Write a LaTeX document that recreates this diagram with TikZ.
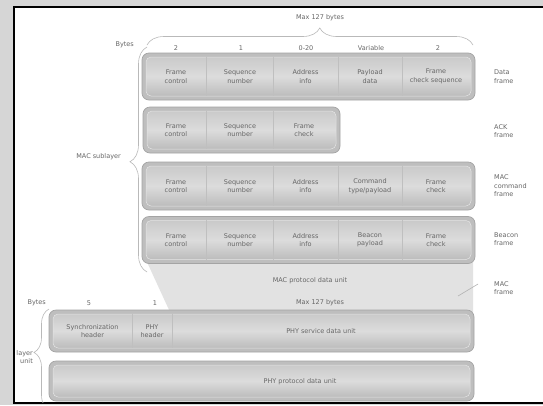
\documentclass[tikz,border=0pt]{standalone}
\usepackage{fontspec}
\setmainfont{DejaVu Sans}
\usetikzlibrary{decorations.pathreplacing}

\definecolor{txt}{HTML}{666666}
\definecolor{rim}{HTML}{A4A4A4}
\definecolor{ring}{HTML}{BEBEBE}
\definecolor{bartop}{HTML}{CACACA}
\definecolor{barmid}{HTML}{DCDCDC}
\definecolor{barbot}{HTML}{BCBCBC}
\definecolor{pdu}{HTML}{E2E2E2}

\tikzset{
  lbl/.style={font=\fontsize{6.5}{8.5}\selectfont, text=txt, inner sep=0pt, align=center},
  lbll/.style={lbl, align=left, anchor=west},
  outerbox/.style={draw=rim, line width=0.7pt, fill=ring, rounded corners=7pt, inner sep=0pt},
  innerbar/.style={draw=white!80!gray, line width=0.5pt, rounded corners=5pt,
    top color=bartop, bottom color=barbot, middle color=barmid, inner sep=0pt},
  cell/.style={lbl, inner sep=0pt},
  divider/.style={draw=gray!50, line width=0.5pt},
  bracestyle/.style={draw=gray!55, line width=0.6pt, decorate},
  frameline/.style={draw=black, line width=2.4pt}
}

\begin{document}
\begin{tikzpicture}[x=1pt,y=-1pt]
\useasboundingbox (0,0) rectangle (543,405);

% surroundings and sheet
\fill[gray!32] (0,0) rectangle (543,405);
\fill[white] (14,7) rectangle (545,403);
\draw[frameline] (545,7) -- (14,7) -- (14,403) -- (545,403);

\begin{scope}
\clip (15,8) rectangle (543,402);

% MAC protocol data unit band
\fill[pdu] (147,262) -- (473,262) -- (473,312) -- (170,312) -- cycle;
\node[lbl] (mpdu) at (310,281) {MAC protocol data unit};

% ---------- top brace and byte counts ----------
\coordinate (tbl) at (147,45);
\coordinate (tbr) at (473,45);
\draw[bracestyle, decoration={brace, amplitude=17pt, aspect=0.53}] (tbl) -- (tbr);
\node[lbl] (max1) at (320,18) {Max 127 bytes};
\node[lbl, anchor=east] (bytes1) at (134,45) {Bytes};
\node[lbl] (n1) at (176,48) {2};
\node[lbl] (n2) at (241,48) {1};
\node[lbl] (n3) at (306,48) {0-20};
\node[lbl] (n4) at (371,48) {Variable};
\node[lbl] (n5) at (438,48) {2};

% ---------- data frame ----------
\node[outerbox, minimum width=333pt, minimum height=47pt] (dataf) at (308.5,76.5) {};
\node[innerbar, minimum width=325pt, minimum height=39pt] (datab) at (dataf) {};
\node[cell, minimum width=61pt, minimum height=39pt] (d1) at (176,76.5) {Frame\\control};
\node[cell, minimum width=66pt, minimum height=39pt] (d2) at (240,76.5) {Sequence\\number};
\node[cell, minimum width=65pt, minimum height=39pt] (d3) at (305.5,76.5) {Address\\info};
\node[cell, minimum width=64pt, minimum height=39pt] (d4) at (370,76.5) {Payload\\data};
\node[cell, minimum width=68pt, minimum height=39pt] (d5) at (436,76.5) {Frame\\check sequence};
\foreach \c in {d1,d2,d3,d4} \draw[divider] (\c.north east) -- (\c.south east);
\node[lbll] (ldata) at (494,76.5) {Data\\frame};

% ---------- ACK frame ----------
\node[outerbox, minimum width=197pt, minimum height=46pt] (ackf) at (241.5,130) {};
\node[innerbar, minimum width=189pt, minimum height=38pt] (ackb) at (ackf) {};
\node[cell, minimum width=61pt, minimum height=38pt] (a1) at (176,130) {Frame\\control};
\node[cell, minimum width=66pt, minimum height=38pt] (a2) at (240,130) {Sequence\\number};
\node[cell, minimum width=62pt, minimum height=38pt] (a3) at (304,130) {Frame\\check};
\foreach \c in {a1,a2} \draw[divider] (\c.north east) -- (\c.south east);
\node[lbll] (lack) at (494,131) {ACK\\frame};

% ---------- MAC command frame ----------
\node[outerbox, minimum width=333pt, minimum height=48pt] (cmdf) at (308.5,186) {};
\node[innerbar, minimum width=325pt, minimum height=40pt] (cmdb) at (cmdf) {};
\node[cell, minimum width=61pt, minimum height=40pt] (c1) at (176,186) {Frame\\control};
\node[cell, minimum width=66pt, minimum height=40pt] (c2) at (240,186) {Sequence\\number};
\node[cell, minimum width=65pt, minimum height=40pt] (c3) at (305.5,186) {Address\\info};
\node[cell, minimum width=64pt, minimum height=40pt] (c4) at (370,186) {Command\\type/payload};
\node[cell, minimum width=68pt, minimum height=40pt] (c5) at (436,186) {Frame\\check};
\foreach \c in {c1,c2,c3,c4} \draw[divider] (\c.north east) -- (\c.south east);
\node[lbll] (lcmd) at (494,186) {MAC\\command\\frame};

% ---------- beacon frame ----------
\node[outerbox, minimum width=333pt, minimum height=47pt] (bcnf) at (308.5,240) {};
\node[innerbar, minimum width=325pt, minimum height=39pt] (bcnb) at (bcnf) {};
\node[cell, minimum width=61pt, minimum height=39pt] (b1) at (176,240) {Frame\\control};
\node[cell, minimum width=66pt, minimum height=39pt] (b2) at (240,240) {Sequence\\number};
\node[cell, minimum width=65pt, minimum height=39pt] (b3) at (305.5,240) {Address\\info};
\node[cell, minimum width=64pt, minimum height=39pt] (b4) at (370,240) {Beacon\\payload};
\node[cell, minimum width=68pt, minimum height=39pt] (b5) at (436,240) {Frame\\check};
\foreach \c in {b1,b2,b3,b4} \draw[divider] (\c.north east) -- (\c.south east);
\node[lbll] (lbcn) at (494,239) {Beacon\\frame};

% ---------- MAC sublayer brace ----------
\coordinate (mbb) at (147,272);
\coordinate (mbt) at (147,47);
\draw[bracestyle, decoration={brace, amplitude=17pt, aspect=0.49}] (mbb) -- (mbt);
\node[lbl, anchor=east] (macsub) at (121,157) {MAC sublayer};

% MAC frame label with leader
\node[lbll] (lmacf) at (494,288) {MAC\\frame};
\coordinate (mfl) at (458,296);
\coordinate (mfr) at (478,284);
\draw[gray!60, line width=0.6pt] (mfl) -- (mfr);

% ---------- PHY byte counts ----------
\node[lbl, anchor=east] (bytes2) at (46,303) {Bytes};
\node[lbl] (p1) at (89,303) {5};
\node[lbl] (p2) at (155,303) {1};
\node[lbl] (max2) at (320,303) {Max 127 bytes};

% ---------- PHY rows ----------
\node[outerbox, minimum width=425pt, minimum height=42pt] (phyf) at (261.5,331) {};
\node[innerbar, minimum width=417pt, minimum height=34pt] (phyb) at (phyf) {};
\node[cell, minimum width=79pt, minimum height=34pt] (s1) at (92.5,331) {Synchronization\\header};
\node[cell, minimum width=40pt, minimum height=34pt] (s2) at (152,331) {PHY\\header};
\node[cell, minimum width=298pt, minimum height=34pt] (s3) at (321,331) {PHY service data unit};
\foreach \c in {s1,s2} \draw[divider] (\c.north east) -- (\c.south east);

\node[outerbox, minimum width=425pt, minimum height=40pt] (ppduf) at (261.5,381) {};
\node[innerbar, minimum width=417pt, minimum height=32pt] (ppdub) at (ppduf) {};
\node[cell] (ppdu) at (300,382) {PHY protocol data unit};

% ---------- PHY brace ----------
\coordinate (pbb) at (49,410);
\coordinate (pbt) at (49,309);
\draw[bracestyle, decoration={brace, amplitude=15pt, aspect=0.57}] (pbb) -- (pbt);
\node[lbl, anchor=east, align=right] (phylayer) at (33,357) {PHY layer\\unit};
\end{scope}
\end{tikzpicture}
\end{document}
